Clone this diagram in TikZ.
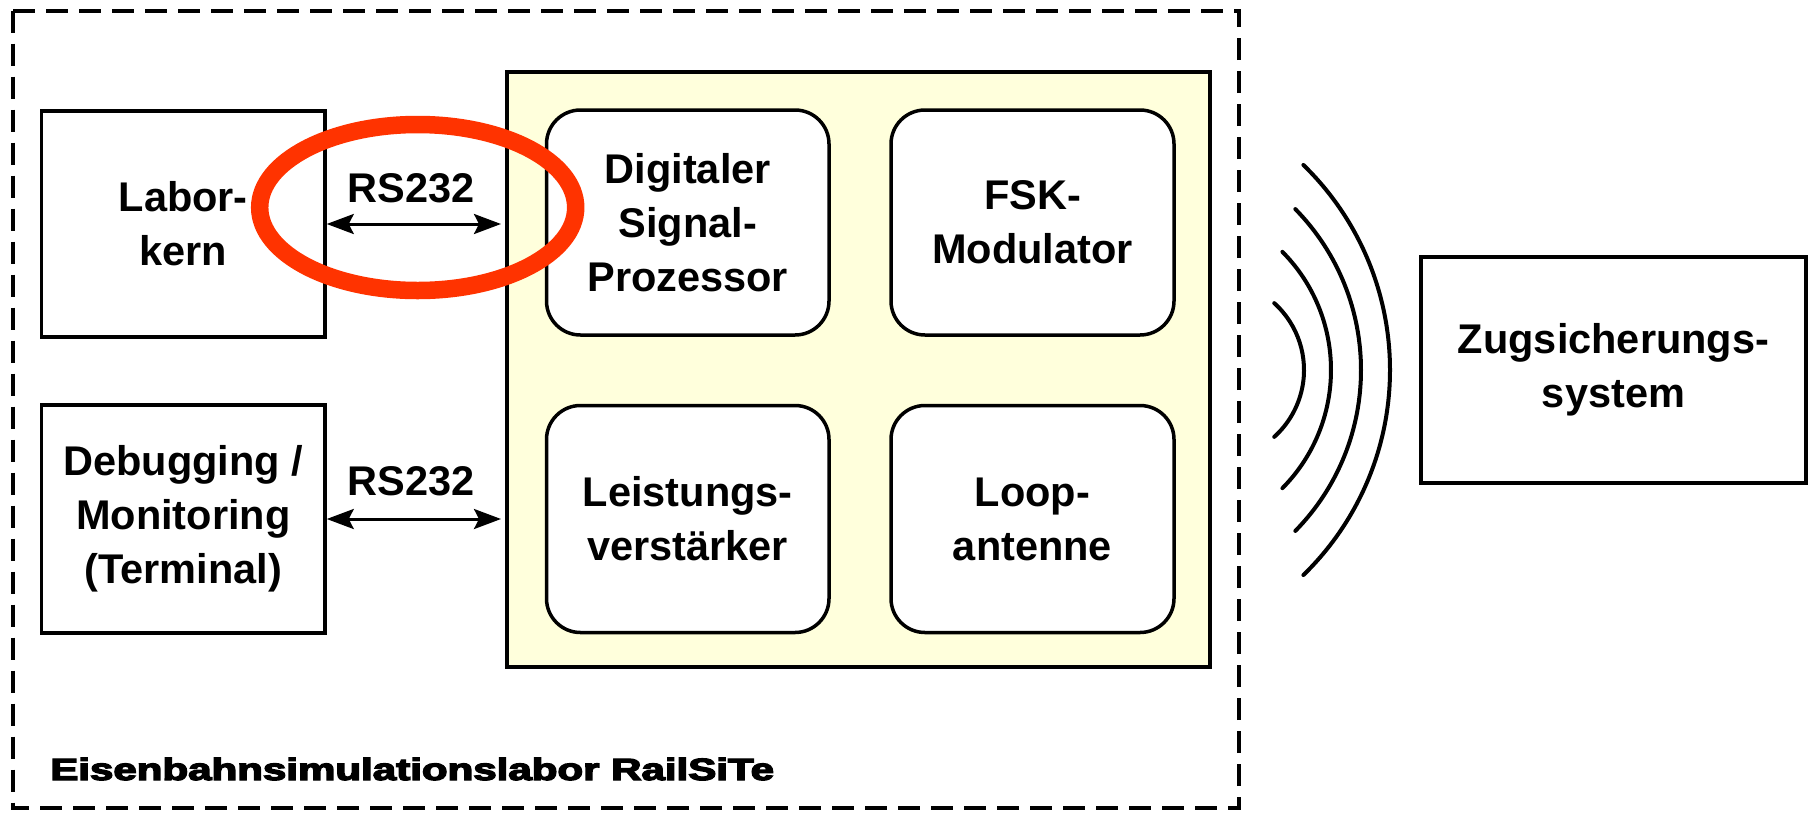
\documentclass[tikz,border=0pt]{standalone}
\usepackage{fontspec}
\setmainfont{Liberation Sans}
\newfontfamily\heavyfont[FakeBold=4]{Liberation Sans Bold}
\usetikzlibrary{arrows.meta}
\definecolor{panelfill}{HTML}{FFFFDC}
\definecolor{markred}{HTML}{FF3300}
\newcommand\diagfont{\bfseries\fontsize{41.5}{54}\selectfont}

\begin{document}
\begin{tikzpicture}[x=1pt,y=-1pt,
  box/.style={draw, line width=3.5pt, fill=white, align=center, inner sep=0pt, font=\diagfont},
  rbox/.style={box, rounded corners=34pt},
  panel/.style={draw, line width=4pt, fill=panelfill, inner sep=0pt},
  link/.style={line width=3pt, {Stealth[length=27pt,width=20pt,inset=5pt]}-{Stealth[length=27pt,width=20pt,inset=5pt]}},
  linklabel/.style={font=\diagfont, inner sep=0pt, anchor=base},
  wave/.style={line width=4pt, line cap=round},
]
\useasboundingbox (0,0) rectangle (1809,812);

% lab boundary
\draw[line width=4pt, dash pattern=on 22pt off 11pt] (12.5,10.5) rectangle (1239,808);

% left-hand devices
\node[box, minimum width=283.5pt, minimum height=226pt] (labor) at (183.25,224) {Labor-\\kern};
\node[box, minimum width=283.5pt, minimum height=228pt] (debug) at (183.25,519) {Debugging /\\Monitoring\\(Terminal)};

% balise hardware
\node[panel, minimum width=703pt, minimum height=595pt] (panel) at (858.5,369.5) {};
\node[rbox, minimum width=282.5pt, minimum height=225pt] (dsp) at (687.75,222.5) {Digitaler\\Signal-\\Prozessor};
\node[rbox, minimum width=283pt, minimum height=225pt] (fsk) at (1032.5,222.5) {FSK-\\Modulator};
\node[rbox, minimum width=282.5pt, minimum height=227pt] (amp) at (687.75,519) {Leistungs-\\verstärker};
\node[rbox, minimum width=283pt, minimum height=227pt] (loop) at (1032.5,519) {Loop-\\antenne};

% train protection system
\node[box, minimum width=385pt, minimum height=226pt] (zug) at (1613.5,370) {Zugsicherungs-\\system};

% serial links
\draw[link, shorten >=4pt] (labor.east) -- (labor.east -| panel.west);
\draw[link, shorten >=4pt] (debug.east) -- (debug.east -| panel.west);
\node[linklabel] (rs1) at (411,202) {RS232};
\node[linklabel] (rs2) at (411,495) {RS232};

% radio waves
\draw[wave] (1214,370) ++(-48:90) arc[start angle=-48, end angle=48, radius=90];
\draw[wave] (1163,370) ++(-44.7:168) arc[start angle=-44.7, end angle=44.7, radius=168];
\draw[wave] (1131,370) ++(-44.4:230) arc[start angle=-44.4, end angle=44.4, radius=230];
\draw[wave] (1104,370) ++(-45.8:286) arc[start angle=-45.8, end angle=45.8, radius=286];

% lab name
\node[anchor=base west, inner sep=0pt, xscale=1.37, font=\heavyfont\fontsize{30.7}{36}\selectfont] (labname) at (50,780) {Eisenbahnsimulationslabor RailSiTe};

% highlight
\draw[markred, line width=17.5pt] (417.7,207.5) ellipse [x radius=158, y radius=83];
\end{tikzpicture}
\end{document}
